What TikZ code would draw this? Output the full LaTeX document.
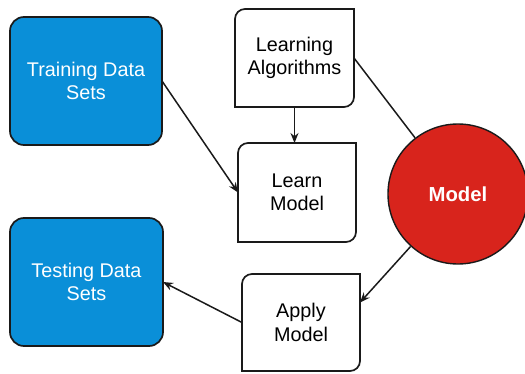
\documentclass[tikz,border=0pt]{standalone}
\usepackage{fontspec}
\setmainfont{Liberation Sans}
\usepackage{tikz}
\usetikzlibrary{positioning,arrows.meta,calc}
\definecolor{databox}{HTML}{0A8FD8}
\definecolor{modelred}{HTML}{D8241C}
\definecolor{edge}{HTML}{1A1A1A}

% outline with only the top left and bottom right corners rounded
\newcommand{\halfround}[1]{%
  \draw[edge, line width=1.7pt] (#1.south west)
    -- ([yshift=-10pt]#1.north west) arc[start angle=180, end angle=90, radius=10pt]
    -- (#1.north east)
    -- ([yshift=10pt]#1.south east) arc[start angle=0, end angle=-90, radius=10pt]
    -- cycle;}

\begin{document}
\begin{tikzpicture}[x=1pt, y=1pt,
        datanode/.style={rectangle, rounded corners=14pt, draw=edge,
        fill=databox, line width=1.7pt, text=white, align=center,
        font=\fontsize{19.8}{23.5}\selectfont, outer sep=0pt},
        stepnode/.style={rectangle, draw=none, fill=white, align=center,
        minimum width=118pt, font=\fontsize{19.8}{23.5}\selectfont,
        outer sep=0pt},
        modelnode/.style={circle, draw=edge, fill=modelred, line
        width=1.4pt, minimum size=140pt, text=white,
        font=\fontsize{20.3}{24}\selectfont\bfseries, inner sep=0pt},
        flow/.style={-{Stealth[length=10pt, width=8pt]}, line width=1.5pt, edge},
        link/.style={line width=1.5pt, edge},
      ]
      \clip (0,0) rectangle (525,373);
      \useasboundingbox (0,0) rectangle (525,373);

      % Data sets on the left
      \node[datanode, minimum width=152pt, minimum height=128pt] (train)
      at (86, 292) {Training Data\\Sets};
      \node[datanode, minimum width=153pt, minimum height=128pt] (test)
      at (86.5, 91) {Testing Data\\Sets};

      % Steps in the middle
      \node[stepnode, minimum width=119pt, minimum height=98pt] (algo)
      at (294.5, 315) {Learning\\Algorithms};
      \halfround{algo}
      \node[stepnode, minimum height=99pt] (learn) at (297, 180.5)
      {Learn\\Model};
      \halfround{learn}
      \node[stepnode, minimum height=97pt] (apply) at (301, 50.5)
      {Apply\\Model};
      \halfround{apply}

      % The model
      \node[modelnode] (model) at (458, 179) {Model};

      % Connectors
      \draw[flow] (train.east) -- (learn.west);
      \draw[flow] (algo.south) -- (algo.south |- learn.north);
      \draw[link] (algo.east) -- (model);
      \draw[flow] (model) -- ([yshift=20pt]apply.east);
      \draw[flow] (apply.west) -- (test.east);
    \end{tikzpicture}
\end{document}
